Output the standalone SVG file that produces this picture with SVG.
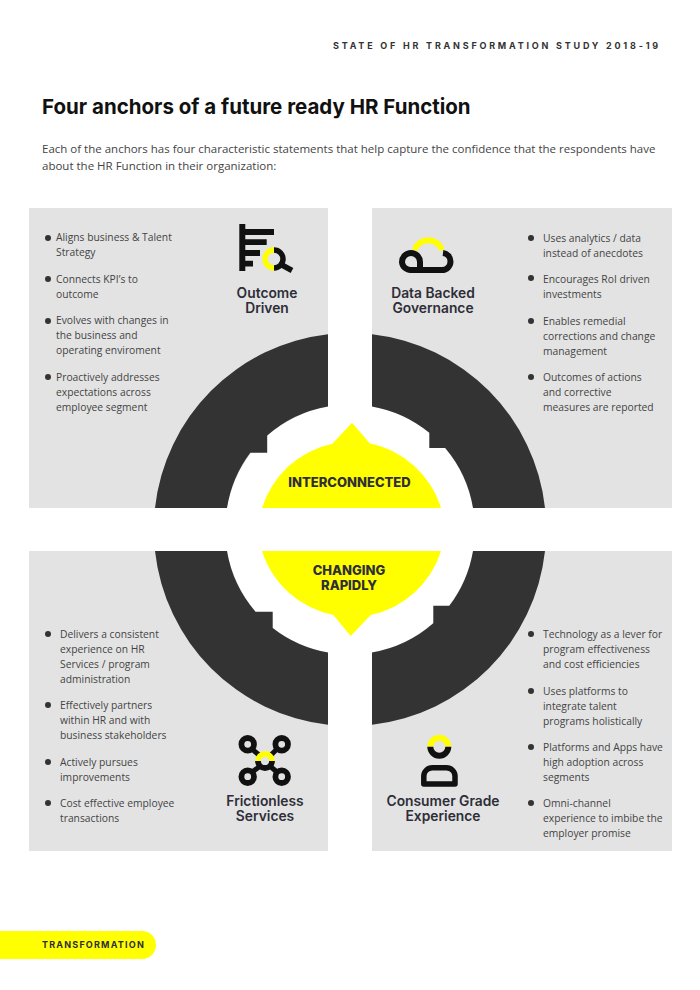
<svg xmlns="http://www.w3.org/2000/svg" width="700" height="990" viewBox="0 0 700 990">
<style>
text{font-family:"Open Sans","Liberation Sans",sans-serif;fill:#444}
.b{font-size:10.3px}
.i{font-size:11.5px}
.l{font-family:"Inter","Liberation Sans",sans-serif;font-size:13.8px;font-weight:600;text-anchor:middle;fill:#2e2e38}
.c{font-family:"Inter","Liberation Sans",sans-serif;font-size:13px;font-weight:800;text-anchor:middle;fill:#2e2e38}
.h{font-family:"Inter","Liberation Sans",sans-serif}
.p{fill:#e3e3e3}
.d{fill:#333}
.y{fill:#ff0}
.k{fill:none;stroke:#111;stroke-width:5.5}
.o{fill:none;stroke:#ff0;stroke-width:5.5}
</style>
<rect width="700" height="990" fill="#fff"/>
<text class="h" x="333" y="49" style="font-size:9px;font-weight:700;letter-spacing:2.78px;fill:#333">STATE OF HR TRANSFORMATION STUDY 2018-19</text>
<text class="h" x="42" y="114" style="font-size:20.500px;font-weight:700;fill:#111">Four anchors of a future ready HR Function</text>
<text class="i" x="42" y="153">Each of the anchors has four characteristic statements that help capture the confidence that the respondents have</text>
<text class="i" x="42" y="170">about the HR Function in their organization:</text>

<g id="panels">
<rect class="p" x="29" y="208" width="299" height="300"/>
<rect class="p" x="372" y="208" width="300" height="300"/>
<rect class="p" x="29" y="551" width="299" height="300"/>
<rect class="p" x="372" y="551" width="300" height="300"/>
<circle cx="350" cy="529.500" r="125" fill="#fff"/>
</g>

<g id="ring">
<path class="d" d="M155 508A196.500 196.500 0 0 1 328 334.200V406.500A125 125 0 0 0 267.200 435.500V452.700H250.300A125 125 0 0 0 227 508Z"/>
<path class="d" d="M545 508A196.500 196.500 0 0 0 372 334.200V406.500A125 125 0 0 1 429.300 432.800V448H445.200A125 125 0 0 1 473 508Z"/>
<path class="d" d="M155 551A196.500 196.500 0 0 0 328 724.800V652.500A125 125 0 0 1 272.700 628V611.700H255.500A125 125 0 0 1 227 551Z"/>
<path class="d" d="M545 551A196.500 196.500 0 0 1 372 724.800V652.500A125 125 0 0 0 433.300 623.300V605.800H449.300A125 125 0 0 0 473 551Z"/>
</g>

<g id="interconnected">
<path class="y" d="M262 508A94 94 0 0 1 332.300 443.800L352 422.700L370 443.500A94 94 0 0 1 441 508Z"/>
<text class="c" x="349.500" y="487">INTERCONNECTED</text>
</g>
<g id="changing-rapidly">
<path class="y" d="M262 551A94 94 0 0 0 333.300 615L350.700 636L370.700 615A94 94 0 0 0 441 551Z"/>
<text class="c" x="349" y="574.500">CHANGING</text>
<text class="c" x="349" y="589.500">RAPIDLY</text>
</g>

<g id="outcome-driven">
<path fill="#111" d="M239.300 224H245.300V229H274V235H245.300V239.300H266.700V245H245.300V250H260V256H245.300V260.700H253V266.500H245.300V271H239.300Z"/>
<path class="o" d="M274 250A9 9 0 0 0 274 268"/>
<path class="k" d="M274 250A9 9 0 0 1 274 268M281 264.500L292 270.500"/>
<text class="l" x="267" y="298">Outcome</text>
<text class="l" x="267" y="313">Driven</text>
</g>

<g id="data-backed-governance">
<path class="o" style="stroke-width:6" d="M414.500 250A14.600 14.600 0 0 1 442 250"/>
<path class="k" style="stroke-width:6" d="M420 267V262A9 9 0 0 0 402 262A8.500 8.500 0 0 0 410.500 270H442A8.500 8.500 0 0 0 450.500 261.500A8.500 8.500 0 0 0 443 253"/>
<text class="l" x="433" y="298">Data Backed</text>
<text class="l" x="433" y="313">Governance</text>
</g>

<g id="frictionless-services">
<path fill="none" stroke="#111" stroke-width="5" d="M252 749L259 755M277 749L271 755M252 772L259 767M277 772L271 767"/>
<g fill="none" stroke="#111" stroke-width="5.800">
<circle cx="247.700" cy="744.300" r="6.300"/>
<circle cx="281.700" cy="744.300" r="6.300"/>
<circle cx="247.700" cy="776.700" r="6.300"/>
<circle cx="281.700" cy="776.700" r="6.300"/>
<path d="M258 761A7 7 0 0 0 272 761"/>
</g>
<path fill="none" stroke="#ff0" stroke-width="5.800" d="M258 761A7 7 0 0 1 272 761"/>
<text class="l" x="265" y="805.500">Frictionless</text>
<text class="l" x="265" y="820.500">Services</text>
</g>

<g id="consumer-grade-experience">
<path class="o" style="stroke-width:6" d="M430.300 746.700A9 9 0 0 1 448.300 746.700"/>
<path class="k" style="stroke-width:6" d="M430.300 746.700A9 9 0 0 0 448.300 746.700"/>
<path class="k" stroke-linejoin="round" d="M423.800 784V776A8.500 8.500 0 0 1 432.300 767.700H446.500A8.500 8.500 0 0 1 455 776V784Z"/>
<text class="l" x="443" y="805.500">Consumer Grade</text>
<text class="l" x="443" y="820.500">Experience</text>
</g>

<g id="bullets" fill="#333">
<circle cx="48" cy="238" r="3"/><circle cx="48" cy="279" r="3"/><circle cx="48" cy="321" r="3"/><circle cx="48" cy="377" r="3"/>
<circle cx="531" cy="238" r="3"/><circle cx="531" cy="278" r="3"/><circle cx="531" cy="321" r="3"/><circle cx="531" cy="377" r="3"/>
<circle cx="48" cy="634" r="3"/><circle cx="48" cy="705" r="3"/><circle cx="48" cy="762" r="3"/><circle cx="48" cy="803" r="3"/>
<circle cx="531" cy="634" r="3"/><circle cx="531" cy="691" r="3"/><circle cx="531" cy="747" r="3"/><circle cx="531" cy="803" r="3"/>
</g>

<g id="list-tl" class="b">
<text x="56" y="241">Aligns business &amp; Talent</text>
<text x="56" y="256">Strategy</text>
<text x="56" y="283">Connects KPI’s to</text>
<text x="56" y="298">outcome</text>
<text x="56" y="324">Evolves with changes in</text>
<text x="56" y="339">the business and</text>
<text x="56" y="354">operating enviroment</text>
<text x="56" y="381">Proactively addresses</text>
<text x="56" y="396">expectations across</text>
<text x="56" y="411">employee segment</text>
</g>
<g id="list-tr" class="b">
<text x="543" y="242">Uses analytics / data</text>
<text x="543" y="257">instead of anecdotes</text>
<text x="543" y="283">Encourages RoI driven</text>
<text x="543" y="298">investments</text>
<text x="543" y="325">Enables remedial</text>
<text x="543" y="340">corrections and change</text>
<text x="543" y="355">management</text>
<text x="543" y="381">Outcomes of actions</text>
<text x="543" y="396">and corrective</text>
<text x="543" y="411">measures are reported</text>
</g>
<g id="list-bl" class="b">
<text x="60" y="638">Delivers a consistent</text>
<text x="60" y="653">experience on HR</text>
<text x="60" y="668">Services / program</text>
<text x="60" y="683">administration</text>
<text x="60" y="709">Effectively partners</text>
<text x="60" y="724">within HR and with</text>
<text x="60" y="739">business stakeholders</text>
<text x="60" y="766">Actively pursues</text>
<text x="60" y="781">improvements</text>
<text x="60" y="807">Cost effective employee</text>
<text x="60" y="822">transactions</text>
</g>
<g id="list-br" class="b">
<text x="543" y="638">Technology as a lever for</text>
<text x="543" y="653">program effectiveness</text>
<text x="543" y="668">and cost efficiencies</text>
<text x="543" y="695">Uses platforms to</text>
<text x="543" y="710">integrate talent</text>
<text x="543" y="725">programs holistically</text>
<text x="543" y="751">Platforms and Apps have</text>
<text x="543" y="766">high adoption across</text>
<text x="543" y="781">segments</text>
<text x="543" y="807">Omni-channel</text>
<text x="543" y="822">experience to imbibe the</text>
<text x="543" y="837">employer promise</text>
</g>

<g id="footer">
<path class="y" d="M0 931H142A14 14 0 0 1 142 959H0Z"/>
<text class="h" x="42" y="948" style="font-size:9px;font-weight:700;letter-spacing:1.200px;fill:#2e2e38">TRANSFORMATION</text>
</g>
</svg>
